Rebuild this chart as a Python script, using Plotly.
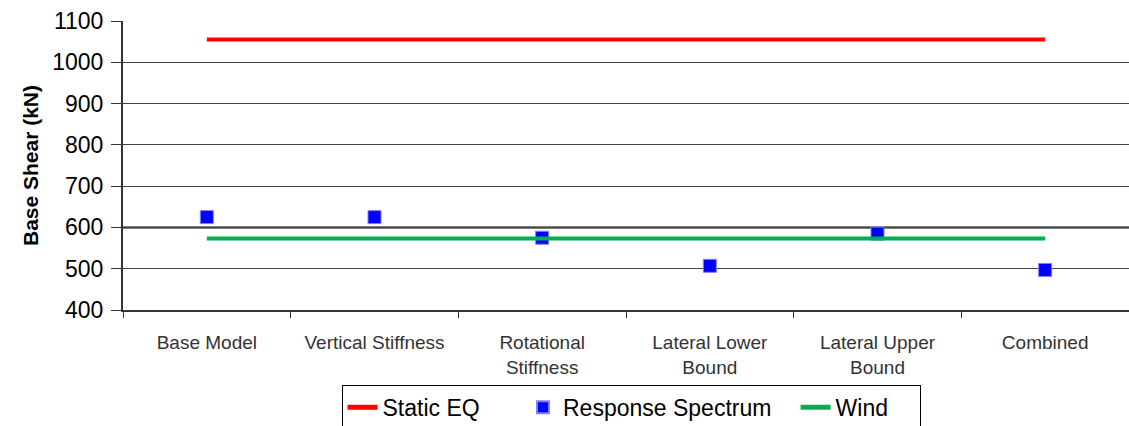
import plotly.graph_objects as go

categories = ["Base Model", "Vertical Stiffness", "Rotational<br>Stiffness",
              "Lateral Lower<br>Bound", "Lateral Upper<br>Bound", "Combined"]
static_eq = [1055, 1055, 1055, 1055, 1055, 1055]
response_spectrum = [625, 625, 575, 507, 585, 497]
wind = [573, 573, 573, 573, 573, 573]
y_ticks = [400, 500, 600, 700, 800, 900, 1000, 1100]
series_names = ["Static EQ", "Response Spectrum", "Wind"]
ref_line = 600

fig = go.Figure()
fig.add_trace(go.Scatter(x=categories, y=static_eq, mode="lines",
                         name=series_names[0] + "&nbsp;" * 6,
                         line=dict(color="#ff0000", width=4)))
fig.add_trace(go.Scatter(x=categories, y=response_spectrum, mode="markers",
                         name=series_names[1] + "&nbsp;" * 3,
                         marker=dict(symbol="square", size=13, color="#0000ff",
                                     line=dict(color="#7f7fff", width=1))))
fig.add_trace(go.Scatter(x=categories, y=wind, mode="lines",
                         name=series_names[2] + "&nbsp;" * 4,
                         line=dict(color="#00b050", width=4)))

fig.add_hline(y=ref_line, line=dict(color="#000000", width=2), layer="below")

fig.update_layout(
    width=1129, height=426,
    margin=dict(l=123, r=0, t=21, b=116, autoexpand=False),
    paper_bgcolor="white", plot_bgcolor="white",
    font=dict(family="Liberation Sans, Arial, sans-serif", color="#000000"),
    showlegend=True,
    legend=dict(orientation="h", x=0.505, xanchor="center",
                yref="container", y=0.097, yanchor="top",
                bordercolor="#000000", borderwidth=1,
                font=dict(size=23, color="#000000"),
                itemsizing="constant", tracegroupgap=0),
    xaxis=dict(type="category", range=[-0.5, 5.5], tickson="boundaries",
               ticks="outside", ticklen=6, tickcolor="#333333",
               showline=True, linecolor="#333333", linewidth=2,
               showgrid=False, tickfont=dict(size=19, color="#333333"),
               ticklabelstandoff=14),
    yaxis=dict(range=[400, 1100], tickvals=y_ticks, ticks="outside", ticklen=10,
               tickcolor="#333333", showline=True, linecolor="#333333", linewidth=2,
               showgrid=True, gridcolor="#444444", gridwidth=1, zeroline=False,
               tickfont=dict(size=23, color="#000000"), ticklabelstandoff=3,
               title=dict(text="<b>Base Shear (kN)</b>", font=dict(size=21), standoff=8)),
)

fig.write_html("out.html")
